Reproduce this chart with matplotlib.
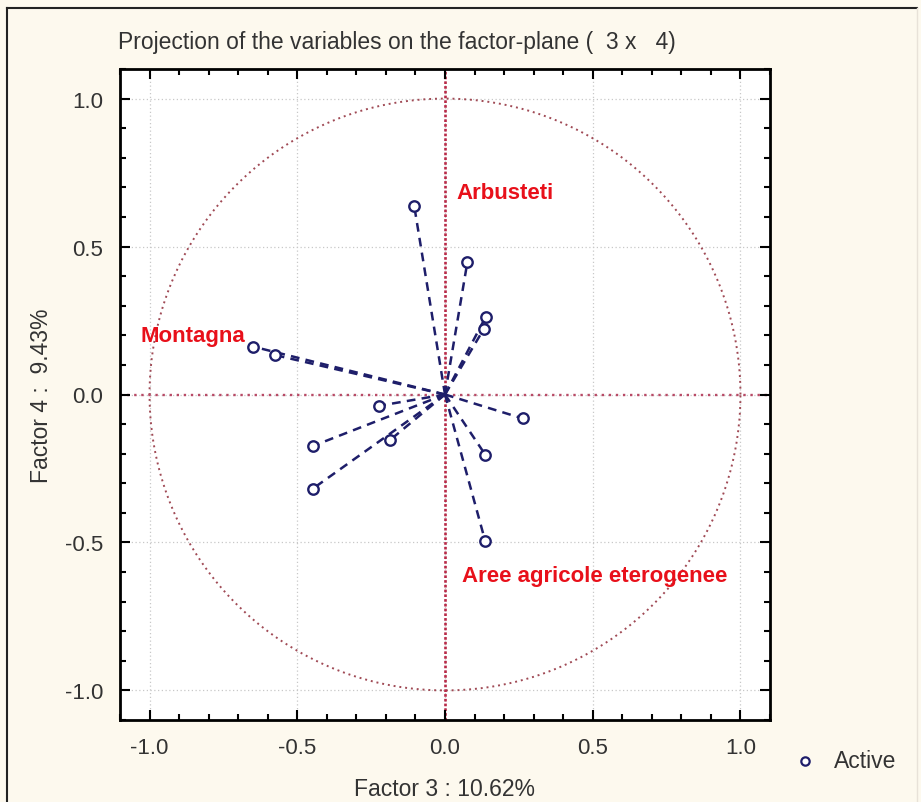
import matplotlib
matplotlib.use("Agg")
import matplotlib.pyplot as plt
import numpy as np
from matplotlib.lines import Line2D
from matplotlib.ticker import MultipleLocator

plt.rcParams['font.family'] = ['Liberation Sans', 'DejaVu Sans']

# Data (variable coordinates on Factor 3 / Factor 4)
factor3 = [-0.104, 0.076, 0.138, 0.131, -0.650, -0.574, -0.222, 0.263, -0.447, -0.185, 0.136, -0.447, 0.136]
factor4 = [0.636, 0.449, 0.263, 0.221, 0.162, 0.133, -0.038, -0.081, -0.174, -0.153, -0.203, -0.318, -0.495]
label_texts = ["Arbusteti", "Montagna", "Aree agricole eterogenee"]
label_x = [0.04, -1.03, 0.057]
label_y = [0.684, 0.20, -0.613]
ticks = [-1.0, -0.5, 0.0, 0.5, 1.0]
tick_labels = ["-1.0", "-0.5", "0.0", "0.5", "1.0"]

W, H = 921, 803
fig = plt.figure(figsize=(W / 100, H / 100), dpi=100)
fig.patch.set_facecolor('#fdf9ee')

ax = fig.add_axes([120 / W, 82 / H, 650 / W, 651 / H])
ax.set_facecolor('white')
ax.set_xlim(-1.1, 1.1)
ax.set_ylim(-1.1, 1.1)

# grid
for t in ticks:
    ax.axvline(t, color='#c8c8c8', lw=0.9, ls=(0, (1, 2)), zorder=0)
    ax.axhline(t, color='#c8c8c8', lw=0.9, ls=(0, (1, 2)), zorder=0)

# unit circle
th = np.linspace(0, 2 * np.pi, 500)
ax.plot(np.cos(th), np.sin(th), color='#a04a55', lw=1.4, ls=(0, (1, 2.0)), zorder=1)

# axis lines
ax.axvline(0, color='#b82a48', lw=1.9, ls=(0, (1, 0.8)), zorder=1)
ax.axhline(0, color='#b84a66', lw=1.7, ls=(0, (1, 2)), zorder=1)

navy = '#1e1e6a'
for x, y in zip(factor3, factor4):
    ax.plot([0, x], [0, y], color=navy, lw=1.8, ls=(0, (3.5, 2.5)), zorder=2)
ax.plot(factor3, factor4, 'o', mfc='white', mec=navy, mew=1.7, ms=7.5, ls='none', zorder=3)

for t, x, y in zip(label_texts, label_x, label_y):
    ax.text(x, y, t, color='#e8101a', fontsize=16, fontweight='bold', ha='left', va='center', zorder=4)

ax.set_xticks(ticks)
ax.set_xticklabels(tick_labels)
ax.set_yticks(ticks)
ax.set_yticklabels(tick_labels)
ax.xaxis.set_minor_locator(MultipleLocator(0.1))
ax.yaxis.set_minor_locator(MultipleLocator(0.1))
ax.tick_params(which='both', direction='in', top=True, right=True, colors='black', labelcolor='#333333', labelsize=16)
ax.tick_params(which='major', length=7, width=1.5)
ax.tick_params(axis='x', which='major', pad=12)
ax.tick_params(axis='y', which='major', pad=12)
ax.tick_params(which='minor', length=4, width=1.5)
for s in ax.spines.values():
    s.set_linewidth(2)
    s.set_color('black')

ax.set_xlabel("Factor 3 : 10.62%", fontsize=16.5, color='#333333', labelpad=14)
ax.set_ylabel("Factor 4 :  9.43%", fontsize=16.5, color='#333333')
ax.yaxis.set_label_coords((53 - 120) / 650, 0.5)

fig.text(118 / W, 1 - 42 / H, "Projection of the variables on the factor-plane (  3 x   4)",
         fontsize=16.5, color='#333333', ha='left', va='center')

# legend (drawn manually outside the axes)
fig.add_artist(Line2D([805 / W], [1 - 762 / H], marker='o', mfc='white', mec=navy, mew=1.6, ms=6,
                      ls='none', transform=fig.transFigure))
fig.text(834 / W, 1 - 762 / H, "Active", fontsize=16.5, color='#333333', ha='left', va='center')

# outer frame
fig.add_artist(Line2D([7 / W, 7 / W], [0, 1 - 9 / H], color='#222222', lw=1.5, transform=fig.transFigure))
fig.add_artist(Line2D([7 / W, 917 / W], [1 - 9 / H, 1 - 9 / H], color='#222222', lw=1.5, transform=fig.transFigure))
fig.add_artist(Line2D([917 / W, 917 / W], [0, 1 - 9 / H], color='#e8e2d8', lw=1.0, transform=fig.transFigure))

fig.savefig("out.png", dpi=100, facecolor=fig.get_facecolor())
